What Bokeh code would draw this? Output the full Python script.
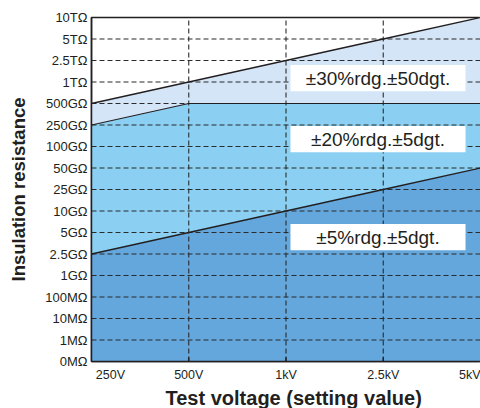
from bokeh.plotting import figure
from bokeh.models import FixedTicker, Title
from bokeh.embed import file_html
from bokeh.resources import INLINE
from bokeh.core.properties import value

# ---------------- data ----------------
voltages = ["250V", "500V", "1kV", "2.5kV", "5kV"]
resistance_labels = ["0MΩ", "1MΩ", "10MΩ", "100MΩ", "1GΩ", "2.5GΩ", "5GΩ", "10GΩ",
                     "25GΩ", "50GΩ", "100GΩ", "250GΩ", "500GΩ", "1TΩ", "2.5TΩ", "5TΩ", "10TΩ"]
limit_5pct = ["2.5GΩ", "5GΩ", "10GΩ", "25GΩ", "50GΩ"]
limit_20pct = ["250GΩ", "500GΩ", "500GΩ", "500GΩ", "500GΩ"]
limit_30pct = ["500GΩ", "1TΩ", "2.5TΩ", "5TΩ", "10TΩ"]
accuracy_labels = ["±5%rdg.±5dgt.", "±20%rdg.±5dgt.", "±30%rdg.±50dgt."]

# ---------------- mapping ----------------
xs = list(range(len(voltages)))
ys_all = list(range(len(resistance_labels)))
idx = {lab: i for i, lab in enumerate(resistance_labels)}
y5 = [idx[v] for v in limit_5pct]
y20 = [idx[v] for v in limit_20pct]
y30 = [idx[v] for v in limit_30pct]

FONT = "Liberation Sans"
DARK = "#231f20"
GRID = "#2b2b2b"
C_DARK = "#63a7dc"
C_MID = "#8bd0f3"
C_LIGHT = "#d3e5f6"

p = figure(width=480, height=408, output_backend="svg", toolbar_location=None,
           x_range=(0, len(voltages) - 1), y_range=(0, len(resistance_labels) - 1),
           min_border_left=91, min_border_right=0, min_border_top=17, min_border_bottom=45)
p.background_fill_color = "white"
p.border_fill_color = "white"
p.outline_line_color = DARK
p.outline_line_width = 1.5
p.xgrid.visible = False
p.ygrid.visible = False

# bands
bottom = [0] * len(xs)
p.varea(x=xs, y1=bottom, y2=y5, fill_color=C_DARK)
p.varea(x=xs, y1=y5, y2=y20, fill_color=C_MID)
p.varea(x=xs, y1=y20, y2=y30, fill_color=C_LIGHT)

# dashed grid
hy = ys_all[1:-1]
p.segment(x0=[xs[0]] * len(hy), x1=[xs[-1]] * len(hy), y0=hy, y1=hy,
          line_color=GRID, line_width=1.1, line_dash="5 3")
vx = xs[1:-1]
p.segment(x0=vx, x1=vx, y0=[ys_all[0]] * len(vx), y1=[ys_all[-1]] * len(vx),
          line_color=GRID, line_width=1.1, line_dash="5 3")
# small inner ticks on the x axis
p.segment(x0=vx, x1=vx, y0=[ys_all[0]] * len(vx), y1=[0.2] * len(vx),
          line_color=DARK, line_width=1.3)

# boundary lines
p.line(xs, y5, line_color=DARK, line_width=1.3)
p.line(xs, y20, line_color=DARK, line_width=1.1)
p.line(xs, y30, line_color=DARK, line_width=1.3)

# accuracy boxes
box_x = 2.946
box_w = 1.80
box_h = 1.22
box_y = [5.78, 10.34, 13.18]
p.rect(x=[box_x] * 3, y=box_y, width=box_w, height=box_h,
       fill_color="white", line_color=None)
p.text(x=[box_x] * 3, y=box_y, text=accuracy_labels, text_align="center",
       text_baseline="middle", text_font=value(FONT), text_font_size="19px",
       text_color=DARK)

# y axis
p.yaxis.ticker = FixedTicker(ticks=ys_all)
p.yaxis.major_label_overrides = {i: lab for i, lab in enumerate(resistance_labels)}
p.yaxis.major_tick_in = 0
p.yaxis.major_tick_out = 0
p.yaxis.minor_tick_line_color = None
p.yaxis.major_label_standoff = 4
p.yaxis.axis_line_color = DARK
p.yaxis.axis_line_width = 1.5
p.yaxis.major_label_text_font = FONT
p.yaxis.major_label_text_font_size = "13px"
p.yaxis.major_label_text_color = DARK
p.yaxis.axis_label = "Insulation resistance"
p.yaxis.axis_label_text_font = FONT
p.yaxis.axis_label_text_font_size = "18.5px"
p.yaxis.axis_label_text_font_style = "bold"
p.yaxis.axis_label_text_color = DARK
p.yaxis.axis_label_standoff = 13

# x axis (first label sits right of the corner)
x_label_pos = [0.195] + xs[1:]
p.xaxis.ticker = FixedTicker(ticks=x_label_pos)
p.xaxis.major_label_overrides = {pos: voltages[i] for i, pos in enumerate(x_label_pos)}
p.xaxis.major_tick_in = 0
p.xaxis.major_tick_out = 0
p.xaxis.minor_tick_line_color = None
p.xaxis.major_label_standoff = 6
p.xaxis.axis_line_color = DARK
p.xaxis.axis_line_width = 1.5
p.xaxis.major_label_text_font = FONT
p.xaxis.major_label_text_font_size = "12.5px"
p.xaxis.major_label_text_color = DARK

p.add_layout(Title(text="Test voltage (setting value)", align="left", offset=74,
                   text_font=FONT, text_font_size="20px", text_font_style="bold",
                   text_color=DARK, standoff=0), "below")

open("out.html", "w").write(file_html(p, INLINE))
